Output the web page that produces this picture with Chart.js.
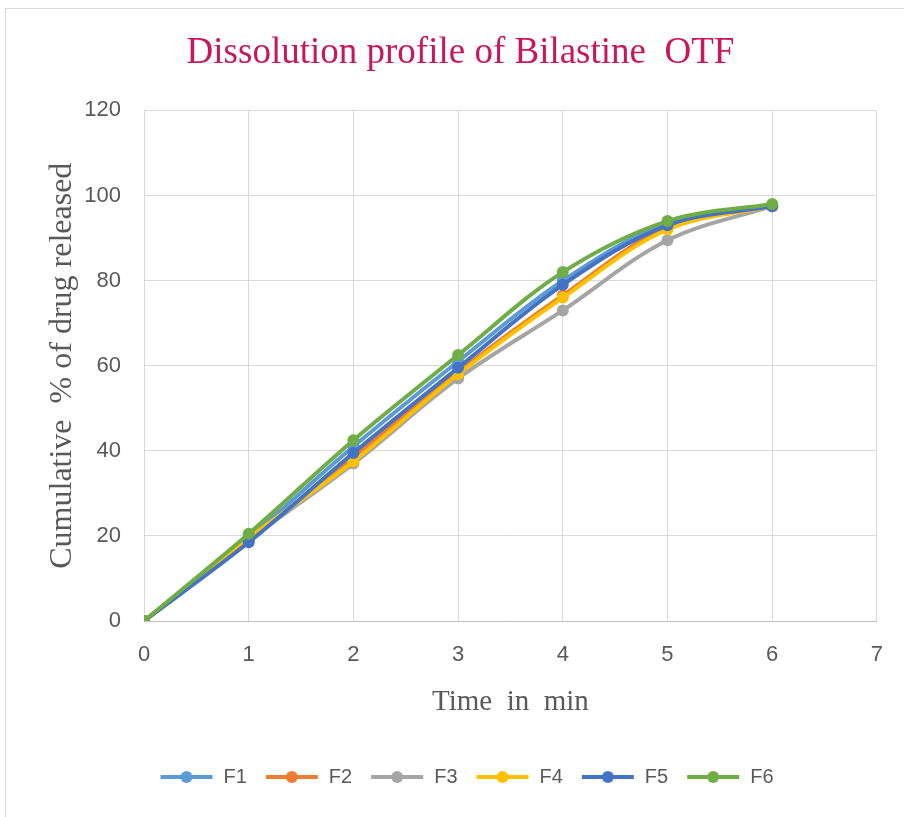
<!DOCTYPE html>
<html>
<head>
<meta charset="utf-8">
<script src="https://cdn.jsdelivr.net/npm/chart.js@4"></script>
<style>
  html, body { margin: 0; padding: 0; background: #fff; }
  #wrap { position: relative; width: 904px; height: 817px; overflow: hidden; }
  #frame { position: absolute; left: 5px; top: 8px; width: 920px; height: 840px; border: 1px solid #d9d9d9; box-sizing: border-box; }
  canvas { position: absolute; left: 0; top: 0; }
</style>
</head>
<body>
<div id="wrap">
  <div id="frame"></div>
  <canvas id="chart" width="904" height="817"></canvas>
</div>
<script>
// dissolution data
const times = [0, 1, 2, 3, 4, 5, 6];
const seriesNames = ["F1", "F2", "F3", "F4", "F5", "F6"];
const F1 = [0, 19.5, 41, 61, 80, 93.5, 97.5];
const F2 = [0, 19, 38.5, 58.5, 76.5, 92.5, 97.5];
const F3 = [0, 19, 37, 57, 73, 89.5, 97.5];
const F4 = [0, 19.5, 37.5, 58, 76, 92, 97.5];
const F5 = [0, 18.5, 39.5, 59.5, 79, 93, 97.5];
const F6 = [0, 20.5, 42.5, 62.5, 82, 94, 98];
const xTicks = [0, 1, 2, 3, 4, 5, 6, 7];
const yTicks = [0, 20, 40, 60, 80, 100, 120];

const colors = ["#5B9BD5", "#ED7D31", "#A5A5A5", "#FFC000", "#4472C4", "#70AD47"];
const allSeries = [F1, F2, F3, F4, F5, F6];

// little line-with-dot marker for the legend
function legendMarker(color) {
  const c = document.createElement("canvas");
  c.width = 54; c.height = 14;
  const g = c.getContext("2d");
  g.strokeStyle = color;
  g.lineWidth = 4;
  g.beginPath(); g.moveTo(1, 7); g.lineTo(53, 7); g.stroke();
  g.fillStyle = color;
  g.beginPath(); g.arc(27, 7, 6, 0, Math.PI * 2); g.fill();
  return c;
}

const datasets = seriesNames.map((name, i) => ({
  label: name,
  data: times.map((t, j) => ({ x: t, y: allSeries[i][j] })),
  borderColor: colors[i],
  backgroundColor: colors[i],
  borderWidth: 4,
  pointRadius: 6,
  pointHoverRadius: 6,
  pointBorderWidth: 0,
  tension: 0.35,
  order: seriesNames.length - i,
  marker: legendMarker(colors[i])
}));

// the original chart is cut off on the right, so title and legend sit a bit right of centre
const shiftBoxes = {
  id: "shiftBoxes",
  afterLayout(chart) {
    chart.titleBlock.left += 19; chart.titleBlock.right += 19;
    chart.legend.left += 25; chart.legend.right += 25;
  }
};

const ctx = document.getElementById("chart").getContext("2d");

new Chart(ctx, {
  type: "line",
  data: { datasets: datasets },
  plugins: [shiftBoxes],
  options: {
    responsive: false,
    animation: false,
    layout: { padding: { left: 5, right: 26, top: 0, bottom: 20 } },
    plugins: {
      title: {
        display: true,
        text: "Dissolution profile of Bilastine  OTF",
        color: "#C8175D",
        font: { family: "'Liberation Serif', 'DejaVu Serif', serif", size: 37, weight: "normal" },
        padding: { top: 31, bottom: 35 }
      },
      legend: {
        position: "bottom",
        labels: {
          usePointStyle: true,
          pointStyleWidth: 54,
          color: "#595959",
          font: { family: "'Liberation Sans', sans-serif", size: 20 },
          padding: 18,
          boxHeight: 14,
          generateLabels: function(chart) {
            return chart.data.datasets.map((ds, i) => ({
              text: ds.label,
              fillStyle: ds.borderColor,
              strokeStyle: ds.borderColor,
              fontColor: "#595959",
              pointStyle: ds.marker,
              lineWidth: 0,
              hidden: !chart.isDatasetVisible(i),
              datasetIndex: i
            }));
          }
        }
      },
      tooltip: { enabled: false }
    },
    scales: {
      x: {
        type: "linear",
        min: xTicks[0],
        max: xTicks[xTicks.length - 1],
        afterBuildTicks: function(scale) { scale.ticks = xTicks.map(v => ({ value: v })); },
        afterFit: function(scale) { scale.height = 128; },
        grid: { color: "#d9d9d9", lineWidth: 1, drawTicks: false },
        border: { display: false },
        ticks: {
          color: "#595959",
          padding: 21,
          font: { family: "'Liberation Sans', sans-serif", size: 22 }
        },
        title: {
          display: true,
          text: "Time  in  min",
          color: "#595959",
          padding: { top: 20, bottom: 29 },
          font: { family: "'Liberation Serif', 'DejaVu Serif', serif", size: 29 }
        }
      },
      y: {
        min: yTicks[0],
        max: yTicks[yTicks.length - 1],
        afterBuildTicks: function(scale) { scale.ticks = yTicks.map(v => ({ value: v })); },
        afterFit: function(scale) { scale.width = 139; },
        grid: {
          color: function(c) { return c.tick && c.tick.value === 0 ? "#bfbfbf" : "#d9d9d9"; },
          lineWidth: 1,
          drawTicks: false
        },
        border: { display: false },
        ticks: {
          color: "#595959",
          padding: 23,
          font: { family: "'Liberation Sans', sans-serif", size: 22 }
        },
        title: {
          display: true,
          text: "Cumulative  % of drug released",
          color: "#595959",
          padding: { top: 38, bottom: 0 },
          font: { family: "'Liberation Serif', 'DejaVu Serif', serif", size: 32 }
        }
      }
    }
  }
});
</script>
</body>
</html>
